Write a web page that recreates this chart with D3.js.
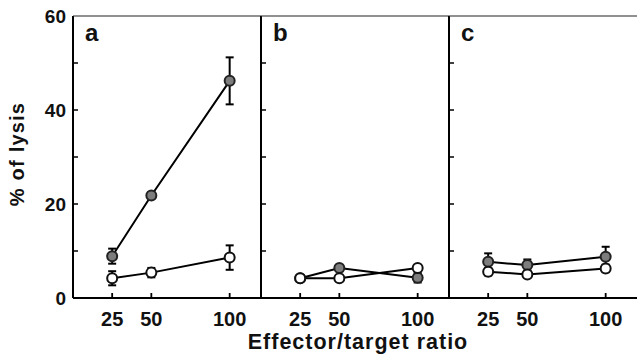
<!DOCTYPE html>
<html>
<head>
<meta charset="utf-8">
<script src="https://cdn.jsdelivr.net/npm/d3@7"></script>
<style>
  html, body { margin: 0; padding: 0; background: #fff; }
  svg text { font-family: "Liberation Sans", Arial, sans-serif; font-weight: bold; fill: #111; }
</style>
</head>
<body>
<svg id="chart" width="637" height="355"></svg>
<script>
// ── Data ──────────────────────────────────────────────────────────────────
const ratios = [25, 50, 100];
const panels = ["a", "b", "c"];
const yTickLabels = [0, 20, 40, 60];

// filled (gray) series, per panel
const filledMean = [
  [8.9, 21.8, 46.2],
  [4.2, 6.4, 4.3],
  [7.7, 7.0, 8.8],
];
const filledErr = [
  [1.6, 0.5, 5.0],
  [0.4, 0.6, 1.0],
  [1.8, 1.2, 2.1],
];
// open series, per panel
const openMean = [
  [4.2, 5.4, 8.6],
  [4.2, 4.2, 6.4],
  [5.6, 5.0, 6.3],
];
const openErr = [
  [1.5, 1.0, 2.6],
  [0.3, 0.3, 0.5],
  [0.8, 0.5, 0.8],
];

// ── Layout ────────────────────────────────────────────────────────────────
const plotLeft = 73, plotTop = 16, plotBottom = 298, panelW = 188;
const svg = d3.select("#chart");

const y = d3.scaleLinear().domain([0, 60]).range([plotBottom, plotTop]);
const x = d3.scaleLinear().domain([0, 120]).range([0, panelW]);

// y tick labels (panel a only)
svg.append("g")
  .selectAll("text")
  .data(yTickLabels)
  .join("text")
  .attr("x", 66)
  .attr("y", (d) => y(d))
  .attr("dy", "0.36em")
  .attr("text-anchor", "end")
  .attr("font-size", 19)
  .text((d) => d);

// y axis title
svg.append("text")
  .attr("transform", `translate(24,${(plotTop + plotBottom) / 2 - 3}) rotate(-90)`)
  .attr("text-anchor", "middle")
  .attr("font-size", 20)
  .attr("letter-spacing", 1.2)
  .text("% of lysis");

// x axis title
svg.append("text")
  .attr("x", 358)
  .attr("y", 349)
  .attr("text-anchor", "middle")
  .attr("font-size", 21.5)
  .attr("letter-spacing", 1)
  .text("Effector/target ratio");

const line = d3.line()
  .x((d) => x(d[0]))
  .y((d) => y(d[1]));

panels.forEach((name, i) => {
  const g = svg.append("g").attr("transform", `translate(${plotLeft + i * panelW},0)`);

  // frame
  g.append("line").attr("x1", 0).attr("x2", 0).attr("y1", plotTop).attr("y2", plotBottom)
    .attr("stroke", "#000").attr("stroke-width", 2);
  g.append("line").attr("x1", 0).attr("x2", panelW).attr("y1", plotTop).attr("y2", plotTop)
    .attr("stroke", "#222").attr("stroke-width", 1.2);
  g.append("line").attr("x1", 0).attr("x2", panelW).attr("y1", plotBottom).attr("y2", plotBottom)
    .attr("stroke", "#000").attr("stroke-width", 1.8);

  // y ticks, inward
  g.selectAll(".ytick")
    .data(d3.range(10, 60, 10))
    .join("line")
    .attr("class", "ytick")
    .attr("x1", 0).attr("x2", 5)
    .attr("y1", (d) => y(d)).attr("y2", (d) => y(d))
    .attr("stroke", "#000").attr("stroke-width", 1.5);

  // x ticks, inward
  g.selectAll(".xtick")
    .data(ratios)
    .join("line")
    .attr("class", "xtick")
    .attr("x1", (d) => x(d)).attr("x2", (d) => x(d))
    .attr("y1", plotBottom).attr("y2", plotBottom - 5)
    .attr("stroke", "#000").attr("stroke-width", 1.8);

  g.selectAll(".xlabel")
    .data(ratios)
    .join("text")
    .attr("class", "xlabel")
    .attr("x", (d) => x(d))
    .attr("y", 326)
    .attr("text-anchor", "middle")
    .attr("font-size", 20)
    .text((d) => d);

  // panel letter
  g.append("text")
    .attr("x", 12)
    .attr("y", 41)
    .attr("font-size", 24)
    .text(name);

  const series = [
    { mean: filledMean[i], err: filledErr[i], fill: "#7d7d7d", stroke: "#222" },
    { mean: openMean[i], err: openErr[i], fill: "#fff", stroke: "#111" },
  ];

  series.forEach((s) => {
    const pts = ratios.map((r, k) => [r, s.mean[k], s.err[k]]);
    g.append("path")
      .datum(pts)
      .attr("d", line)
      .attr("fill", "none")
      .attr("stroke", "#000")
      .attr("stroke-width", 2);

    const eb = g.append("g");
    pts.forEach((p) => {
      const cx = x(p[0]);
      eb.append("line").attr("x1", cx).attr("x2", cx)
        .attr("y1", y(p[1] - p[2])).attr("y2", y(p[1] + p[2]))
        .attr("stroke", "#000").attr("stroke-width", 2);
      [p[1] - p[2], p[1] + p[2]].forEach((v) => {
        eb.append("line").attr("x1", cx - 4).attr("x2", cx + 4)
          .attr("y1", y(v)).attr("y2", y(v))
          .attr("stroke", "#000").attr("stroke-width", 2);
      });
    });
  });

  series.forEach((s) => {
    g.selectAll(null)
      .data(ratios.map((r, k) => [r, s.mean[k]]))
      .join("circle")
      .attr("cx", (d) => x(d[0]))
      .attr("cy", (d) => y(d[1]))
      .attr("r", 5)
      .attr("fill", s.fill)
      .attr("stroke", s.stroke)
      .attr("stroke-width", 2);
  });
});
</script>
</body>
</html>
